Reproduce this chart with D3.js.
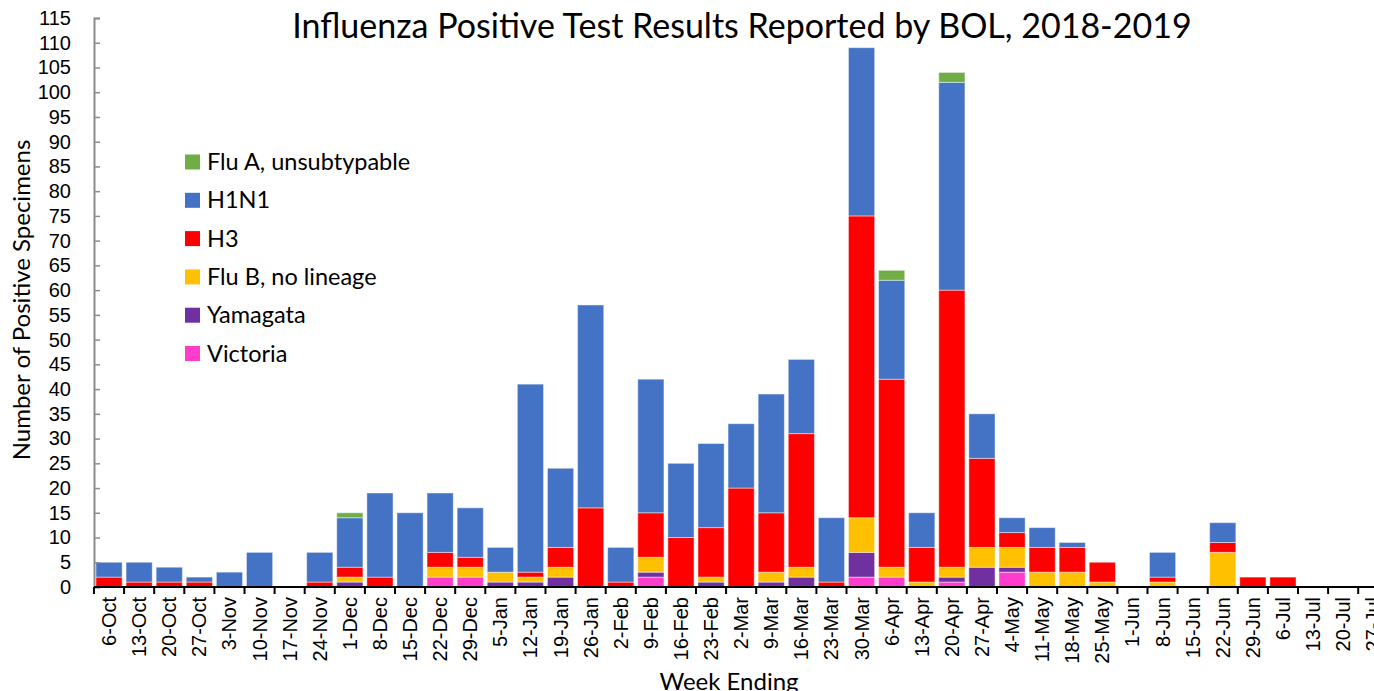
<!DOCTYPE html>
<html><head><meta charset="utf-8">
<script src="https://cdn.jsdelivr.net/npm/d3@7"></script>
<style>body{margin:0;background:#fff;} svg{display:block;font-family:Lato,"Open Sans",sans-serif;}</style>
</head><body>
<svg id="c" width="1374" height="691"></svg>
<script>
const weeks = ["6-Oct","13-Oct","20-Oct","27-Oct","3-Nov","10-Nov","17-Nov","24-Nov","1-Dec","8-Dec","15-Dec","22-Dec","29-Dec","5-Jan","12-Jan","19-Jan","26-Jan","2-Feb","9-Feb","16-Feb","23-Feb","2-Mar","9-Mar","16-Mar","23-Mar","30-Mar","6-Apr","13-Apr","20-Apr","27-Apr","4-May","11-May","18-May","25-May","1-Jun","8-Jun","15-Jun","22-Jun","29-Jun","6-Jul","13-Jul","20-Jul","27-Jul"];
const victoria  = [0,0,0,0,0,0,0,0,0,0,0,2,2,0,0,0,0,0,2,0,0,0,0,0,0,2,2,0,1,0,3,0,0,0,0,0,0,0,0,0,0,0,0];
const yamagata  = [0,0,0,0,0,0,0,0,1,0,0,0,0,1,1,2,0,0,1,0,1,0,1,2,0,5,0,0,1,4,1,0,0,0,0,0,0,0,0,0,0,0,0];
const fluB      = [0,0,0,0,0,0,0,0,1,0,0,2,2,2,1,2,0,0,3,0,1,0,2,2,0,7,2,1,2,4,4,3,3,1,0,1,0,7,0,0,0,0,0];
const h3        = [2,1,1,1,0,0,0,1,2,2,0,3,2,0,1,4,16,1,9,10,10,20,12,27,1,61,38,7,56,18,3,5,5,4,0,1,0,2,2,2,0,0,0];
const h1n1      = [3,4,3,1,3,7,0,6,10,17,15,12,10,5,38,16,41,7,27,15,17,13,24,15,13,34,20,7,42,9,3,4,1,0,0,5,0,4,0,0,0,0,0];
const fluAUnsub = [0,0,0,0,0,0,0,0,1,0,0,0,0,0,0,0,0,0,0,0,0,0,0,0,0,0,2,0,2,0,0,0,0,0,0,0,0,0,0,0,0,0,0];
const yTicks = d3.range(0, 116, 5);

const series = [
  {key:"Victoria", label:"Victoria", values:victoria, color:"#FF3CCC"},
  {key:"Yamagata", label:"Yamagata", values:yamagata, color:"#7030A0"},
  {key:"FluB", label:"Flu B, no lineage", values:fluB, color:"#FFC000"},
  {key:"H3", label:"H3", values:h3, color:"#FF0000"},
  {key:"H1N1", label:"H1N1", values:h1n1, color:"#4472C4"},
  {key:"FluA", label:"Flu A, unsubtypable", values:fluAUnsub, color:"#70AD47"}
];

const rows = weeks.map((w,i)=>{const r={week:w}; series.forEach(s=>r[s.key]=s.values[i]); return r;});
const stack = d3.stack().keys(series.map(s=>s.key))(rows);

const svg = d3.select("#c");
const x0 = 94, x1 = 94 + 43*30.1;
const x = d3.scaleBand().domain(weeks).range([x0, x1]).paddingInner(0.13).paddingOuter(0.065);
const y = d3.scaleLinear().domain([0,115]).range([587, 18]);

// bars
stack.forEach((layer, li)=>{
  svg.append("g").attr("fill", series[li].color)
    .selectAll("rect").data(layer).join("rect")
    .attr("x", d=>x(d.data.week))
    .attr("width", x.bandwidth())
    .attr("y", d=>y(d[1]))
    .attr("height", d=>Math.max(0, y(d[0])-y(d[1])))
    .attr("stroke", d=> (d[1]-d[0])>0 ? "rgba(255,255,255,0.45)" : "none")
    .attr("stroke-width", 1);
});

// y axis
const ya = svg.append("g").attr("transform", `translate(${x0},0)`)
  .call(d3.axisLeft(y).tickValues(yTicks).tickSize(-6).tickPadding(23));
ya.select(".domain").attr("stroke","#8c8c8c").attr("stroke-width",2);
ya.selectAll(".tick line").attr("stroke","#8c8c8c").attr("stroke-width",1.5);
ya.selectAll("text").attr("font-size",20).attr("fill","#000");

// x axis
const xa = svg.append("g").attr("transform","translate(0,587)")
  .call(d3.axisBottom(x).tickSize(0).tickSizeOuter(0));
xa.select(".domain").attr("stroke","#000").attr("stroke-width",2).attr("d", `M${x0},0H${x1}`);
xa.selectAll("text").attr("font-size",20).attr("fill","#000")
  .attr("transform","rotate(-90)").attr("text-anchor","end")
  .attr("x",-10).attr("y",0).attr("dy","0.35em");
// boundary ticks
const half = (x.step()-x.bandwidth())/2;
svg.append("g").selectAll("line").data(weeks.concat(["end"])).join("line")
  .attr("x1",(d,i)=> i<weeks.length ? x(d)-half : x(weeks[weeks.length-1])+x.bandwidth()+half)
  .attr("x2",(d,i)=> i<weeks.length ? x(d)-half : x(weeks[weeks.length-1])+x.bandwidth()+half)
  .attr("y1",587).attr("y2",594).attr("stroke","#000").attr("stroke-width",2);

// titles
svg.append("text").attr("x",742).attr("y",38).attr("text-anchor","middle")
  .attr("font-size",34).attr("fill","#000")
  .text("Influenza Positive Test Results Reported by BOL, 2018-2019");
svg.append("text").attr("x",729).attr("y",690).attr("text-anchor","middle")
  .attr("font-size",24).text("Week Ending");
svg.append("text").attr("transform","translate(30,300) rotate(-90)").attr("text-anchor","middle")
  .attr("font-size",24).text("Number of Positive Specimens");

// legend
const legendOrder = series.slice().reverse();
const lg = svg.append("g");
legendOrder.forEach((s,i)=>{
  const cy = 162 + i*38.3;
  lg.append("rect").attr("x",185).attr("y",cy-7.5).attr("width",15).attr("height",15).attr("fill",s.color);
  lg.append("text").attr("x",207).attr("y",cy+8).attr("font-size",23.5).text(s.label);
});
</script>
</body></html>
